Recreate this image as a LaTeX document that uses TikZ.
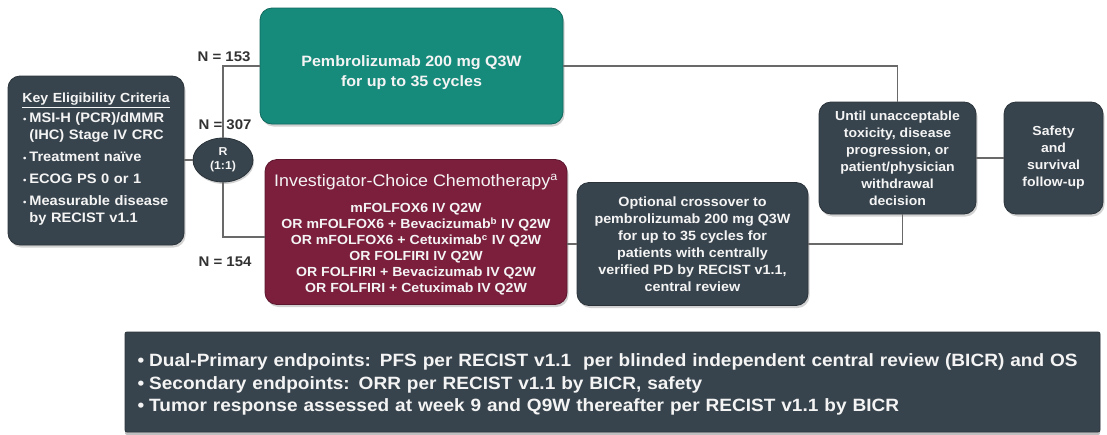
\documentclass[tikz,border=0pt]{standalone}
\usepackage{fontspec}
\setmainfont{Liberation Sans}[FakeStretch=1.07]
\usetikzlibrary{shapes.geometric,shadows}
\definecolor{slate}{RGB}{56,68,77}
\definecolor{tealbox}{RGB}{22,139,124}
\definecolor{maroonbox}{RGB}{123,31,61}
\definecolor{linegray}{RGB}{105,105,105}
\definecolor{labelgray}{RGB}{50,50,50}
\definecolor{txt}{RGB}{244,244,244}
\begin{document}
\begin{tikzpicture}[x=1pt,y=-1pt,
  box/.style={rounded corners=12pt, draw=#1!75!black, line width=0.8pt, fill=#1,
    text=txt, font=\bfseries\fontsize{13.4}{17}\selectfont, align=center, inner sep=2pt,
    drop shadow={shadow xshift=1.5pt,shadow yshift=-2.5pt,opacity=0.35}},
  panel/.style={rounded corners=2pt, draw=slate!75!black, line width=0.8pt, fill=slate,
    text=txt, font=\bfseries\fontsize{17.8}{22.5}\selectfont, align=left, inner sep=0pt,
    drop shadow={shadow xshift=0pt,shadow yshift=-3pt,opacity=0.5}},
  nlabel/.style={text=labelgray, font=\bfseries\fontsize{14}{16}\selectfont, inner sep=1pt},
  conn/.style={draw=linegray, line width=1.1pt},
  rnode/.style={ellipse, draw=slate!75!black, line width=0.8pt, fill=slate, text=txt,
    font=\bfseries\fontsize{11.5}{14}\selectfont, align=center, inner sep=0pt,
    minimum width=60pt, minimum height=44pt,
    drop shadow={shadow xshift=1pt,shadow yshift=-2pt,opacity=0.35}}
]
\path[use as bounding box, fill=white] (0,0) rectangle (1107,434);

% nodes
\node[box=slate, minimum width=176pt, minimum height=169pt, text width=146pt, align=left,
  font=\bfseries\fontsize{13.7}{17}\selectfont] (elig) at (96,160.5) {%
  \makebox[\linewidth]{\fontsize{13.2}{17}\selectfont\underline{Key Eligibility Criteria}}\\[2pt]
  \begin{tabular}{@{}l@{\hspace{3pt}}l@{}}
  {\small\textbullet} & MSI-H (PCR)/dMMR\\
   & (IHC) Stage IV CRC\\[5pt]
  {\small\textbullet} & Treatment naïve\\[5pt]
  {\small\textbullet} & ECOG PS 0 or 1\\[5pt]
  {\small\textbullet} & Measurable disease\\
   & by RECIST v1.1
  \end{tabular}};

\node[rnode] (R) at (223,160) {R\\(1:1)};

\node[box=tealbox, minimum width=303pt, minimum height=116pt,
  font=\bfseries\fontsize{15}{20}\selectfont] (pembro) at (411.5,66)
  {\rule{0pt}{25pt}Pembrolizumab 200 mg Q3W\\for up to 35 cycles};

\node[box=maroonbox, minimum width=302pt, minimum height=145pt,
  font=\bfseries\fontsize{13.2}{16}\selectfont] (chemo) at (416,232)
  {{\mdseries\fontsize{16.7}{18}\selectfont\rule{0pt}{18pt}Investigator-Choice Chemotherapy\textsuperscript{a}}\\[10pt]
   mFOLFOX6 IV Q2W\\
   OR mFOLFOX6 + Bevacizumab\textsuperscript{b} IV Q2W\\
   OR mFOLFOX6 + Cetuximab\textsuperscript{c} IV Q2W\\
   OR FOLFIRI IV Q2W\\
   OR FOLFIRI + Bevacizumab IV Q2W\\
   OR FOLFIRI + Cetuximab IV Q2W};

\node[box=slate, minimum width=231pt, minimum height=123pt] (cross) at (692.5,244)
  {Optional crossover to\\pembrolizumab 200 mg Q3W\\for up to 35 cycles for\\patients with centrally\\verified PD by RECIST v1.1,\\central review};

\node[box=slate, minimum width=157pt, minimum height=112pt,
  font=\bfseries\fontsize{13.1}{17}\selectfont] (until) at (897.5,158)
  {Until unacceptable\\toxicity, disease\\progression, or\\patient/physician\\withdrawal\\decision};

\node[box=slate, minimum width=99pt, minimum height=112pt,
  font=\bfseries\fontsize{13.1}{17}\selectfont] (safety) at (1053.5,158)
  {Safety\\and\\survival\\follow-up};

\node[panel, minimum width=975pt, minimum height=100pt, text width=950pt] (ep) at (612.5,382)
  {\rule{0pt}{18pt}\textbullet\hspace{5pt}Dual-Primary endpoints: PFS per RECIST v1.1\ \ per blinded independent central review (BICR) and OS\\
   \textbullet\hspace{5pt}Secondary endpoints: ORR per RECIST v1.1 by BICR, safety\\
   \textbullet\hspace{5pt}Tumor response assessed at week 9 and Q9W thereafter per RECIST v1.1 by BICR};

% connectors
\draw[conn] (elig.east |- R.west) -- (R.west);
\draw[conn] (R.north) |- (pembro.west);
\draw[conn] (R.south) |- ([yshift=-5pt]chemo.west);
\draw[conn] (chemo.east |- cross.west) -- (cross.west);
\draw[conn] (pembro.east) -| (until.north);
\draw[conn] (cross.east) -| ([xshift=5pt]until.south);
\draw[conn] (until.east) -- (safety.west);

% labels
\node[nlabel] (n153) at (224,57) {N = 153};
\node[nlabel] (n307) at (225,125) {N = 307};
\node[nlabel] (n154) at (225,262) {N = 154};
\end{tikzpicture}
\end{document}
